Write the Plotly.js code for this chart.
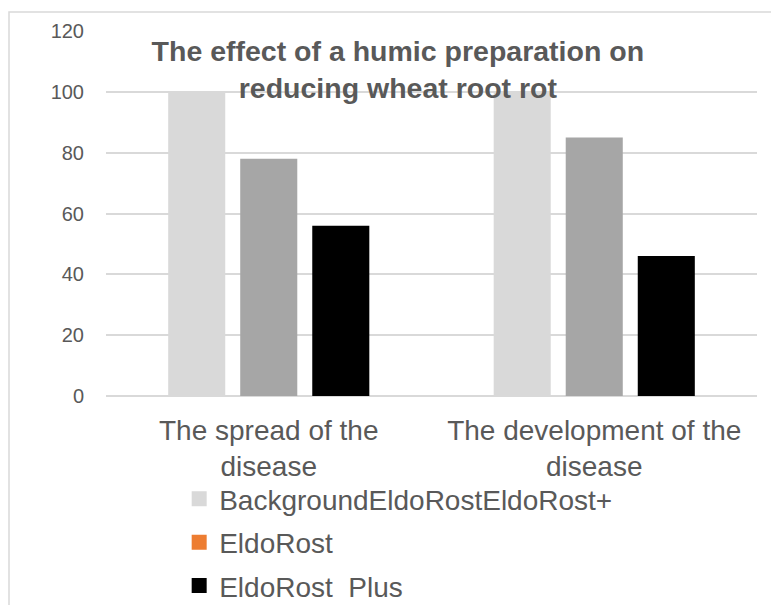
<!DOCTYPE html>
<html>
<head>
<meta charset="utf-8">
<script src="https://cdn.plot.ly/plotly-3.0.1.min.js"></script>
<style>html,body{margin:0;padding:0;background:#fff;}</style>
</head>
<body>
<div id="chart" style="width:771px;height:605px;"></div>
<script>
var categories = ["The spread of the<br>disease", "The development of the<br>disease"];
var seriesNames = ["Background", "EldoRost", "EldoRost+"];
var background = [100, 100];
var eldoRost = [78, 85];
var eldoRostPlus = [56, 46];
var legendNames = ["BackgroundEldoRostEldoRost+", "EldoRost", "EldoRost\u00a0 Plus"];
var barColors = ["#D9D9D9", "#A6A6A6", "#000000"];
var legendColors = ["#D9D9D9", "#ED7D31", "#000000"];
var yTicks = [0, 20, 40, 60, 80, 100, 120];

var seriesValues = [background, eldoRost, eldoRostPlus];
var traces = [];
for (var i = 0; i < 3; i++) {
  traces.push({
    type: "bar", x: categories, y: seriesValues[i], name: seriesNames[i],
    marker: {color: barColors[i]}, showlegend: false, hoverinfo: "y"
  });
}
for (var j = 0; j < 3; j++) {
  traces.push({
    type: "scatter", mode: "markers", x: [null], y: [null], name: legendNames[j],
    legendgroup: "g" + j,
    marker: {symbol: "square", size: 15, color: legendColors[j]}, showlegend: true
  });
}

var layout = {
  width: 771, height: 605,
  margin: {l: 106, r: 14, t: 31, b: 209, autoexpand: false},
  paper_bgcolor: "#ffffff", plot_bgcolor: "#ffffff",
  font: {family: "Liberation Sans, Arial, sans-serif", color: "#595959"},
  title: {
    text: "<b>The effect of a humic preparation on<br>reducing wheat root rot</b>",
    font: {size: 28.5, color: "#595959", family: "Liberation Sans, Arial, sans-serif"},
    x: 0.516, xanchor: "center", xref: "container",
    y: 0.9, yanchor: "top", yref: "container"
  },
  barmode: "group", bargap: 0.336, bargroupgap: 0.208,
  xaxis: {
    type: "category", showgrid: false, zeroline: false, showline: false, automargin: false,
    ticks: "", tickfont: {size: 28, color: "#595959"}, ticklabelstandoff: 15
  },
  yaxis: {
    range: [0, 120], tickvals: yTicks, showgrid: true, gridcolor: "#D9D9D9", gridwidth: 1.5,
    zeroline: true, zerolinecolor: "#D9D9D9", zerolinewidth: 1.5, showline: false, automargin: false,
    ticks: "", tickfont: {size: 20, color: "#595959"}, ticklabelstandoff: 21
  },
  legend: {
    orientation: "v", x: 0.1124, xanchor: "left", y: -0.214, yanchor: "top",
    font: {size: 28, color: "#595959"}, bgcolor: "rgba(0,0,0,0)", tracegroupgap: 4
  },
  shapes: [{
    type: "rect", xref: "paper", yref: "paper", layer: "below",
    x0: -0.149, x1: 1.05, y0: -0.7, y1: 1.052,
    line: {color: "#D9D9D9", width: 1.5}, fillcolor: "rgba(0,0,0,0)"
  }]
};

Plotly.newPlot("chart", traces, layout, {displayModeBar: false, responsive: false});
</script>
</body>
</html>
